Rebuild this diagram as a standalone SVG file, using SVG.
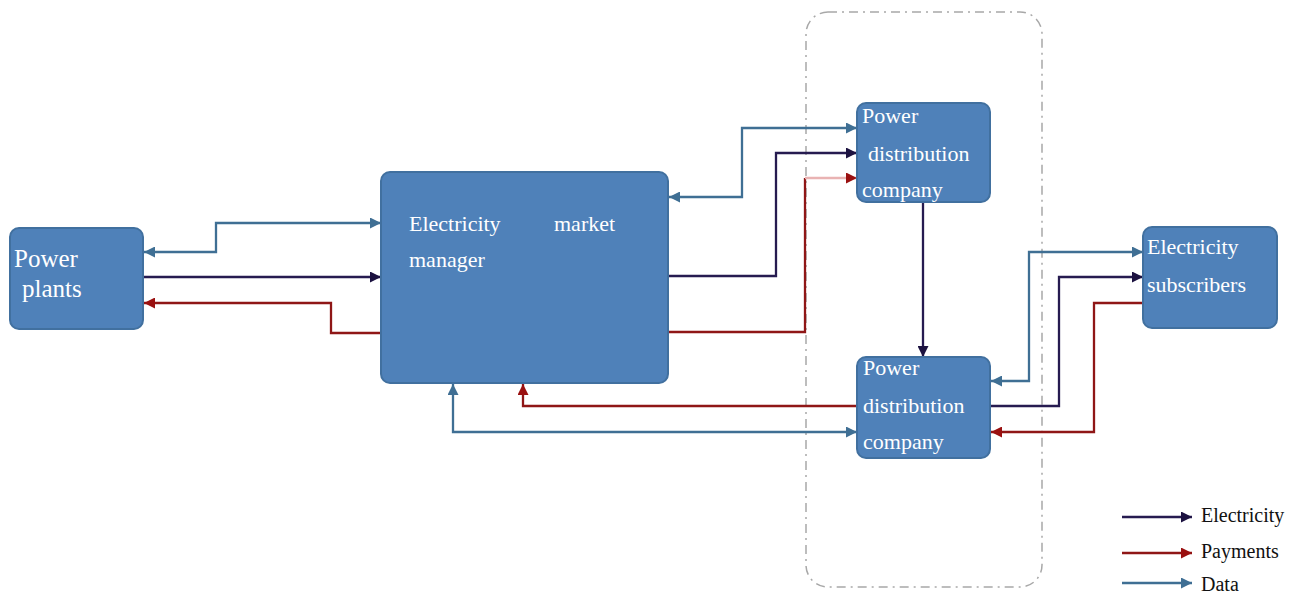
<svg xmlns="http://www.w3.org/2000/svg" width="1298" height="598" viewBox="0 0 1298 598">
<style>
.box{fill:#4f81b9;stroke:#41709f;stroke-width:2}
.t{font-family:"Liberation Serif","Times New Roman",serif;fill:#ffffff;font-size:22px}
.lt{font-family:"Liberation Serif","Times New Roman",serif;fill:#111111;font-size:20px}
.ln{fill:none;stroke-width:2.3;stroke-linejoin:miter}
.data{stroke:#3f6f94;marker-end:url(#aD)}
.dd{marker-start:url(#aD)}
.elec{stroke:#261b50;marker-end:url(#aE)}
.pay{stroke:#8f1616;marker-end:url(#aP)}
</style>
<defs>
<marker id="aD" viewBox="0 0 10 10" refX="10" refY="5" markerWidth="13" markerHeight="11" markerUnits="userSpaceOnUse" orient="auto-start-reverse"><path d="M0,0 L10,5 L0,10 z" fill="#3f6f94"/></marker>
<marker id="aE" viewBox="0 0 10 10" refX="10" refY="5" markerWidth="13" markerHeight="11" markerUnits="userSpaceOnUse" orient="auto-start-reverse"><path d="M0,0 L10,5 L0,10 z" fill="#1c1240"/></marker>
<marker id="aP" viewBox="0 0 10 10" refX="10" refY="5" markerWidth="13" markerHeight="11" markerUnits="userSpaceOnUse" orient="auto-start-reverse"><path d="M0,0 L10,5 L0,10 z" fill="#9a1010"/></marker>
</defs>
<rect width="1298" height="598" fill="#ffffff"/>
<rect id="boundary" x="806" y="12" width="236" height="575" rx="22" fill="none" stroke="#a8a8a8" stroke-width="1.5" stroke-dasharray="9 5 2 5"/>

<g id="connectors">
<path class="ln data dd" d="M144,252 H216 V223 H381"/>
<path class="ln elec" d="M143,277 H381"/>
<path class="ln pay" d="M381,333 H331 V303 H144"/>
<path class="ln data dd" d="M669,197 H742 V128 H857"/>
<path class="ln elec" d="M668,276 H776 V153 H857"/>
<path class="ln" stroke="#8f1616" d="M668,332 H805 V178"/>
<path class="ln" stroke="#e9b3b3" d="M805,178 H857" marker-end="url(#aP)"/>
<path class="ln elec" d="M923,202 V357"/>
<path class="ln data dd" d="M991,381 H1029 V252 H1143"/>
<path class="ln elec" d="M990,406 H1059 V277 H1143"/>
<path class="ln pay" d="M1143,303 H1094 V432 H991"/>
<path class="ln pay" d="M857,406 H523 V384"/>
<path class="ln data dd" d="M857,432 H453 V384"/>
</g>

<g id="power-plants">
<rect class="box" x="10" y="228" width="133" height="101" rx="9"/>
<text class="t" x="14" y="267" style="font-size:25px">Power</text>
<text class="t" x="22" y="297" style="font-size:25px">plants</text>
</g>
<g id="market-manager">
<rect class="box" x="381" y="172" width="287" height="211" rx="9"/>
<text class="t" x="409" y="231">Electricity</text>
<text class="t" x="554" y="231">market</text>
<text class="t" x="409" y="267">manager</text>
</g>
<g id="pdc-top">
<rect class="box" x="857" y="103" width="133" height="99" rx="9"/>
<text class="t" x="862" y="123">Power</text>
<text class="t" x="868" y="161">distribution</text>
<text class="t" x="862" y="197">company</text>
</g>
<g id="pdc-bottom">
<rect class="box" x="857" y="357" width="133" height="101" rx="9"/>
<text class="t" x="863" y="375">Power</text>
<text class="t" x="863" y="413">distribution</text>
<text class="t" x="863" y="449">company</text>
</g>
<g id="subscribers">
<rect class="box" x="1143" y="227" width="134" height="101" rx="9"/>
<text class="t" x="1147" y="254">Electricity</text>
<text class="t" x="1147" y="292">subscribers</text>
</g>

<g id="legend">
<path class="ln elec" d="M1122,517 H1192"/>
<path class="ln pay" d="M1122,553 H1192"/>
<path class="ln data" d="M1122,583 H1192"/>
<text class="lt" x="1201" y="522">Electricity</text>
<text class="lt" x="1201" y="558">Payments</text>
<text class="lt" x="1201" y="591">Data</text>
</g>
</svg>
